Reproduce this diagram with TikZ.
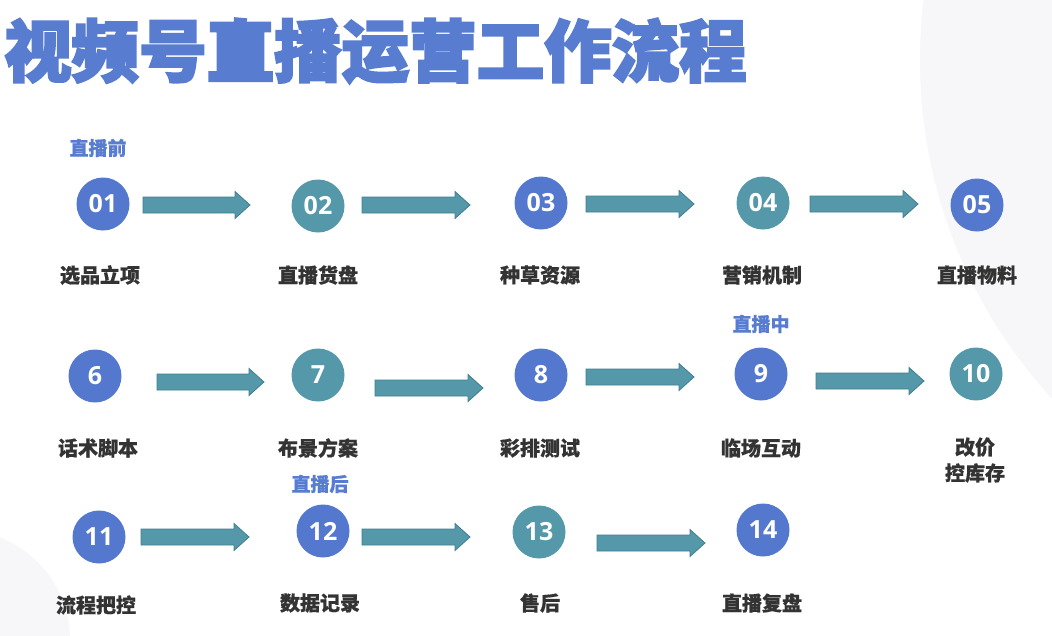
\documentclass[tikz,border=0pt]{standalone}
\usepackage{fontspec}
\usetikzlibrary{calc}
\newfontfamily\cjk{Noto Sans CJK SC}[BoldFeatures={FakeBold=0.6}]
\newfontfamily\cjktitle{Noto Sans CJK SC}[BoldFeatures={FakeBold=3.2}]
\newfontfamily\numfont{Open Sans}
\definecolor{cblue}{HTML}{5578CF}
\definecolor{cteal}{HTML}{5498A9}
\definecolor{tealedge}{HTML}{3F7F8F}
\definecolor{ttl}{HTML}{577CD0}
\definecolor{lbl}{HTML}{333333}
\definecolor{bgc}{HTML}{F7F7FA}
\tikzset{
  circ/.style={circle, fill=#1, minimum size=53pt, inner sep=0pt, text=white, font=\numfont\bfseries\fontsize{25}{25}\selectfont},
  lab/.style={text=lbl, font=\cjk\bfseries\fontsize{20}{26}\selectfont, inner sep=0pt, align=center},
  stage/.style={text=ttl, font=\cjk\bfseries\fontsize{19}{22}\selectfont, inner sep=0pt},
  barrowstyle/.style={fill=cteal, draw=tealedge, line width=0.8pt, line join=miter}
}
\newcommand\barrow[2]{\draw[barrowstyle] let \p1=(#1), \p2=(#2) in
  (\x1,\y1-8pt) -- (\x2-15pt,\y1-8pt) -- (\x2-15pt,\y1-13.5pt) -- (\x2,\y1) --
  (\x2-15pt,\y1+13.5pt) -- (\x2-15pt,\y1+8pt) -- (\x1,\y1+8pt) -- cycle;}
\begin{document}
\begin{tikzpicture}[x=1pt,y=-1pt]
\useasboundingbox (0,0) rectangle (1052,635);
\fill[white] (0,0) rectangle (1052,635);
\begin{scope}
\clip (0,0) rectangle (1052,635);
\fill[bgc] (1420,60) circle (500);
\fill[bgc] (-40,640) circle (110);
\end{scope}
\node[anchor=west, inner sep=0pt, text=ttl, font=\cjktitle\bfseries\fontsize{67.5}{70}\selectfont] (title) at (4,51) {视频号直播运营工作流程};
% stage labels
\node[stage] (s1) at (98,148) {直播前};
\node[stage] (s2) at (761,324) {直播中};
\node[stage] (s3) at (320,484) {直播后};
% circles row 1
\node[circ=cblue] (c1) at (103,204) {01};
\node[circ=cteal] (c2) at (318,206) {02};
\node[circ=cblue] (c3) at (541,203) {03};
\node[circ=cteal] (c4) at (763,203) {04};
\node[circ=cblue] (c5) at (977,205) {05};
% row 2
\node[circ=cblue] (c6) at (95,376) {6};
\node[circ=cteal] (c7) at (318,375) {7};
\node[circ=cblue] (c8) at (541,375) {8};
\node[circ=cblue] (c9) at (761,374) {9};
\node[circ=cteal] (c10) at (976,374) {10};
% row 3
\node[circ=cblue] (c11) at (99,537) {11};
\node[circ=cblue] (c12) at (323,531) {12};
\node[circ=cteal] (c13) at (539,532) {13};
\node[circ=cblue] (c14) at (763,530) {14};
% labels
\node[lab] (l1) at (100,275) {选品立项};
\node[lab] (l2) at (318,275) {直播货盘};
\node[lab] (l3) at (540,275) {种草资源};
\node[lab] (l4) at (762,275) {营销机制};
\node[lab] (l5) at (977,275) {直播物料};
\node[lab] (l6) at (98,448) {话术脚本};
\node[lab] (l7) at (318,448) {布景方案};
\node[lab] (l8) at (540,448) {彩排测试};
\node[lab] (l9) at (761,448) {临场互动};
\node[lab] (l10) at (975,460) {改价\\控库存};
\node[lab] (l11) at (96,605) {流程把控};
\node[lab] (l12) at (320,603) {数据记录};
\node[lab] (l13) at (540,603) {售后};
\node[lab] (l14) at (762,603) {直播复盘};
% arrow endpoints
\coordinate (a1s) at (143,205); \coordinate (a1e) at (250,205);
\coordinate (a2s) at (362,205); \coordinate (a2e) at (470,205);
\coordinate (a3s) at (586,204); \coordinate (a3e) at (694,204);
\coordinate (a4s) at (810,204); \coordinate (a4e) at (918,204);
\coordinate (a5s) at (157,382); \coordinate (a5e) at (264,382);
\coordinate (a6s) at (375,388); \coordinate (a6e) at (483,388);
\coordinate (a7s) at (586,377); \coordinate (a7e) at (694,377);
\coordinate (a8s) at (816,381); \coordinate (a8e) at (924,381);
\coordinate (a9s) at (141,537); \coordinate (a9e) at (249,537);
\coordinate (a10s) at (362,537); \coordinate (a10e) at (470,537);
\coordinate (a11s) at (597,543); \coordinate (a11e) at (705,543);
\barrow{a1s}{a1e}\barrow{a2s}{a2e}\barrow{a3s}{a3e}\barrow{a4s}{a4e}
\barrow{a5s}{a5e}\barrow{a6s}{a6e}\barrow{a7s}{a7e}\barrow{a8s}{a8e}
\barrow{a9s}{a9e}\barrow{a10s}{a10e}\barrow{a11s}{a11e}
\end{tikzpicture}
\end{document}
